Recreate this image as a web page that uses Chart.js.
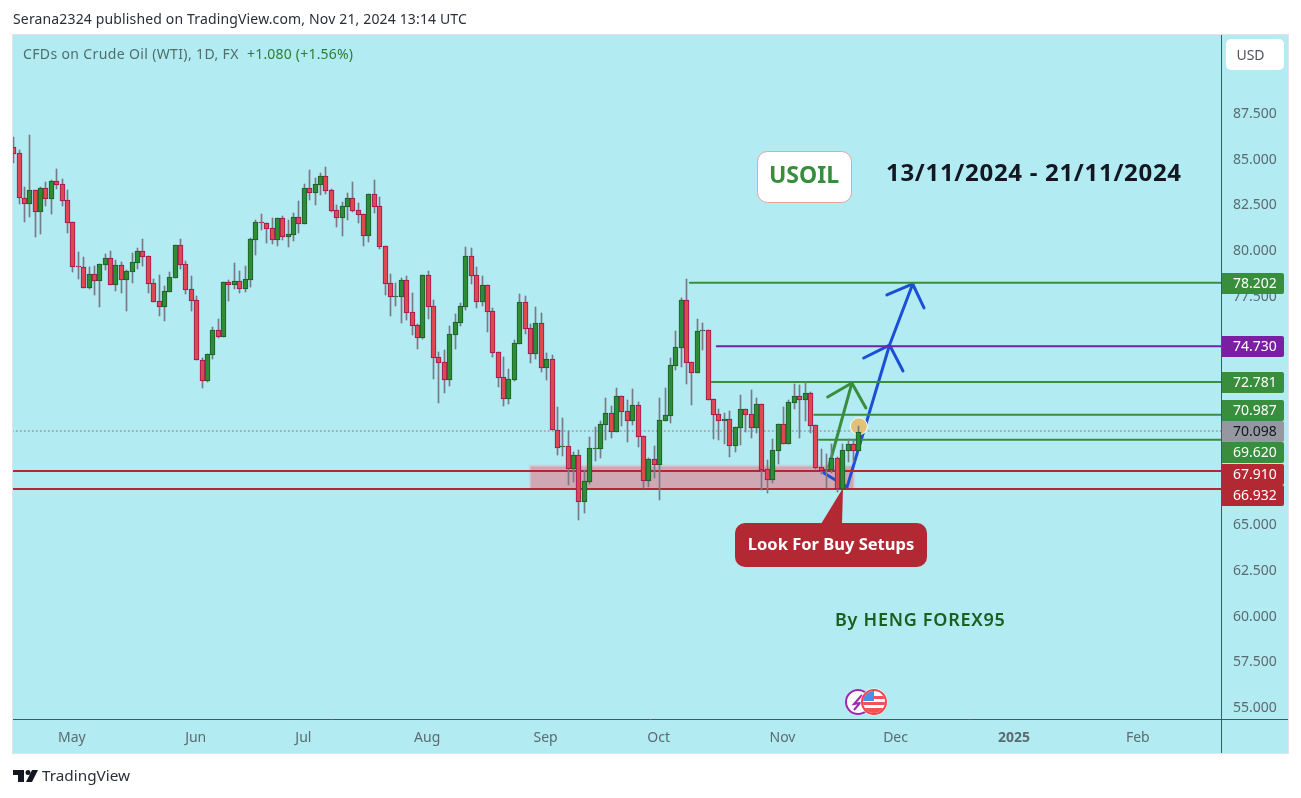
<!DOCTYPE html>
<html>
<head>
<meta charset="utf-8">
<style>
    html, body { margin: 0; padding: 0; background: #fff; }
    canvas { display: block; }
</style>
<script src="https://cdn.jsdelivr.net/npm/chart.js@4/dist/chart.umd.min.js"></script>
</head>
<body>
<canvas id="mainChart" width="1301" height="798"></canvas>
<script>
// daily candles
const opens = [85.62,85.29,82.83,82.50,83.26,82.10,83.37,82.81,83.76,83.59,
    82.72,81.51,79.11,79.05,77.94,78.67,78.32,79.20,79.54,78.10,
    79.16,78.38,78.82,79.31,79.93,79.65,78.18,77.19,76.90,77.72,
    78.49,80.26,79.22,77.85,77.25,73.96,72.85,74.27,75.61,75.26,
    78.23,78.10,78.28,77.88,78.38,80.56,81.51,81.46,81.18,80.56,
    81.73,80.73,80.84,81.79,81.44,83.37,83.14,83.57,84.03,83.26,
    82.17,81.77,82.37,82.83,82.17,81.95,80.78,83.04,82.39,80.20,
    78.18,77.45,77.45,78.34,76.59,75.88,75.20,78.61,76.92,74.13,
    73.85,72.90,75.37,76.02,76.90,79.65,78.61,77.17,78.07,76.65,
    74.40,73.03,71.87,72.91,74.87,77.14,75.71,74.33,75.99,73.56,
    74.02,70.17,69.20,69.26,68.04,68.77,66.23,67.33,69.11,69.13,
    70.45,71.07,70.06,71.99,71.17,70.66,71.50,69.81,67.38,68.55,
    68.26,70.66,70.94,73.67,74.66,77.25,73.85,73.29,75.55,75.60,
    71.83,71.01,70.66,70.73,69.30,70.28,71.28,71.01,70.28,71.56,
    68.00,67.44,69.02,70.46,69.41,71.65,71.99,71.81,72.16,70.41,
    68.11,67.95,67.98,68.60,66.91,69.02,69.37,68.99];
const closes = [85.27,82.83,82.50,83.26,82.10,83.37,82.81,83.76,83.57,82.70,
    81.50,79.09,79.05,77.94,78.67,78.32,79.22,79.54,78.10,79.16,
    78.38,78.83,79.33,79.93,79.64,78.16,77.17,76.90,77.74,78.50,
    80.26,79.20,77.83,77.23,73.96,72.85,74.29,75.61,75.26,78.23,
    78.10,78.28,77.88,78.39,80.58,81.51,81.49,81.17,80.56,81.73,
    80.73,80.86,81.79,81.44,83.37,83.14,83.59,84.03,83.25,82.15,
    81.77,82.39,82.83,82.15,81.93,80.78,83.04,82.37,80.18,78.16,
    77.45,77.48,78.34,76.57,75.86,75.20,78.61,76.90,74.11,73.84,
    72.90,75.39,76.04,76.92,79.65,78.60,77.17,78.07,76.63,74.38,
    73.02,71.87,72.92,74.89,77.14,75.70,74.33,75.99,73.56,74.02,
    70.15,69.19,69.26,68.04,68.77,66.23,67.35,69.15,69.17,70.46,
    71.07,70.06,71.99,71.16,70.66,71.50,69.79,67.38,68.55,68.26,
    70.68,70.95,73.69,74.68,77.25,73.84,73.29,75.55,75.60,71.81,
    70.99,70.66,70.73,69.30,70.30,71.28,70.99,70.28,71.56,67.97,
    67.44,69.04,70.46,69.41,71.67,71.99,71.81,72.16,70.39,68.09,
    67.93,68.00,68.60,66.91,69.04,69.37,68.99,70.06];
const highs = [86.20,85.47,83.47,86.29,83.26,83.43,83.74,83.83,84.43,83.88,
    83.28,81.51,79.89,79.62,79.05,79.13,79.22,79.77,79.95,79.45,
    79.34,78.91,79.84,80.11,80.60,79.65,78.41,78.63,78.03,78.78,
    80.26,80.60,79.40,78.58,77.48,74.09,74.29,75.79,76.21,78.23,
    78.36,79.29,78.85,79.12,80.66,81.64,81.97,81.46,81.75,81.73,
    81.86,81.64,82.02,82.68,83.61,84.38,83.94,84.19,84.54,83.34,
    82.46,82.63,83.12,83.72,82.57,81.95,83.04,83.83,82.90,80.20,
    78.69,78.19,78.47,78.58,77.65,75.95,78.61,78.83,77.27,74.42,
    74.53,75.84,76.50,77.08,80.16,80.11,79.05,78.58,78.07,76.81,
    74.40,74.15,73.47,75.08,77.59,77.48,75.95,76.88,76.55,74.37,
    74.26,71.41,70.81,70.10,68.95,69.06,67.97,69.77,70.32,70.63,
    71.90,71.47,72.45,71.99,71.79,72.40,71.67,69.81,68.62,69.26,
    71.88,72.45,74.07,75.57,77.36,78.41,73.85,76.21,76.01,75.60,
    71.83,71.28,71.07,71.17,70.30,72.05,71.28,72.34,71.88,71.56,
    68.49,69.64,70.46,71.39,71.78,72.65,72.60,72.80,72.23,70.41,
    69.10,68.82,69.39,68.68,69.39,69.64,69.61,70.37];
const lows = [84.78,82.52,81.53,81.81,80.71,80.87,82.41,81.97,83.32,82.41,
    80.93,78.80,78.41,77.94,77.87,77.54,76.88,78.91,78.10,77.76,
    77.65,76.66,78.20,78.96,79.13,77.65,77.17,76.39,76.11,77.72,
    78.49,78.96,77.59,76.66,73.96,72.45,72.78,74.04,75.20,75.26,
    77.21,77.87,77.65,77.70,77.97,79.73,81.09,80.38,80.33,80.22,
    80.55,80.16,80.49,80.93,81.44,82.73,82.46,83.01,83.06,82.08,
    81.26,80.77,81.64,82.10,81.48,80.22,80.44,82.02,80.05,77.54,
    76.39,76.94,76.01,76.17,75.35,74.58,75.13,76.22,72.94,71.63,
    72.18,72.56,74.58,75.84,76.72,78.14,76.83,76.94,75.51,74.15,
    72.50,71.47,71.58,72.83,74.87,75.40,73.82,74.04,73.33,72.89,
    70.15,68.79,68.73,67.14,67.31,65.23,65.61,67.20,68.46,68.62,
    69.59,69.71,70.06,70.37,69.50,70.43,69.22,66.96,67.03,67.55,
    66.32,70.66,70.54,73.44,73.60,72.67,71.52,73.29,74.53,71.81,
    69.66,69.61,69.39,68.70,68.95,69.33,70.06,69.71,69.97,66.87,
    66.71,67.25,68.28,69.41,69.41,71.28,69.73,70.65,70.01,68.02,
    67.75,66.96,67.78,66.78,66.91,68.40,68.42,68.99];

// axes
const monthIndex = [11, 34, 54, 77, 99, 120, 143, 164, 186, 209];
const monthLabels = ['May', 'Jun', 'Jul', 'Aug', 'Sep', 'Oct', 'Nov', 'Dec', '2025', 'Feb'];
// the ones behind the price tags are not shown in the picture
const priceTicks = [55, 57.5, 60, 62.5, 65, 77.5, 80, 82.5, 85, 87.5];

// horizontal levels drawn on the chart
const levelPrices = [78.202, 74.73, 72.781, 70.987, 69.62, 67.91, 66.932];
const levelStarts = [125.6, 130.6, 129.7, 148.7, 149.6, -1, -1];
const levelColors = ['#388e3c', '#7b1fa2', '#388e3c', '#388e3c', '#388e3c', '#b22833', '#b22833'];
const lastPrice = 70.098;

// hand drawn arrows (bar index / price)
const blueArrowX = [150.5, 154.8, 162.7, 167.0];
const blueArrowY = [67.80, 67.03, 74.80, 78.14];
const blueHeadTopX = [162.2, 167.0, 169.1];
const blueHeadTopY = [77.54, 78.14, 76.83];
const blueHeadMidX = [157.9, 162.7, 165.2];
const blueHeadMidY = [74.09, 74.80, 73.38];
const greenArrowX = [151.4, 155.7];
const greenArrowY = [68.13, 72.72];
const greenHeadX = [151.2, 155.7, 158.3];
const greenHeadY = [71.96, 72.72, 71.36];

// buy zone
const zoneFrom = 95.9, zoneTo = 156.1, zoneHigh = 68.2, zoneLow = 66.93;

const FONT = '"Noto Sans"';
const UP = '#2e8b3a', UP_EDGE = '#1b5e20', DOWN = '#dc4a4e', DOWN_EDGE = '#a0125a';

const isUp = opens.map((o, i) => closes[i] >= o);

function lineSet(xs, ys, color, width) {
    return {
        type: 'line',
        data: xs.map((x, i) => ({ x: x, y: ys[i] })),
        borderColor: color,
        borderWidth: width,
        pointRadius: 0,
        borderCapStyle: 'round',
        borderJoinStyle: 'round',
        order: 5
    };
}

function text(ctx, str, x, y, font, color, align, spacing) {
    ctx.font = font;
    ctx.fillStyle = color;
    ctx.textAlign = align || 'left';
    ctx.textBaseline = 'middle';
    ctx.letterSpacing = spacing || '0px';
    ctx.fillText(str, x, y);
    ctx.letterSpacing = '0px';
}

function roundBox(ctx, x, y, w, h, r, fill, stroke) {
    ctx.beginPath();
    ctx.roundRect(x, y, w, h, r);
    ctx.fillStyle = fill;
    ctx.fill();
    if (stroke) {
        ctx.strokeStyle = stroke;
        ctx.lineWidth = 1;
        ctx.stroke();
    }
}

// snap candles to whole pixels so they stay crisp
const snapBars = {
    id: 'snapBars',
    afterDatasetsUpdate(chart) {
        [0, 1].forEach(d => {
            chart.getDatasetMeta(d).data.forEach(el => {
                el.x = Math.floor(el.x) + 0.5;
                el.y = Math.round(el.y);
                el.base = Math.round(el.base);
                if (el.base === el.y) el.base = el.y + 2;
            });
        });
    }
};

// background + buy zone go under the candles
const backdrop = {
    id: 'backdrop',
    beforeDraw(chart) {
        const ctx = chart.ctx;
        ctx.save();
        ctx.fillStyle = '#ffffff';
        ctx.fillRect(0, 0, 1301, 798);
        ctx.fillStyle = '#b2ebf2';
        ctx.fillRect(13, 35, 1275, 718);
        ctx.strokeStyle = '#e0e3eb';
        ctx.lineWidth = 1;
        ctx.strokeRect(12.5, 34.5, 1276, 719);
        ctx.restore();
    },
    beforeDatasetsDraw(chart) {
        const ctx = chart.ctx, sx = chart.scales.x, sy = chart.scales.y;
        const x0 = sx.getPixelForValue(zoneFrom), x1 = sx.getPixelForValue(zoneTo);
        const y0 = sy.getPixelForValue(zoneHigh), y1 = sy.getPixelForValue(zoneLow);
        ctx.save();
        ctx.fillStyle = '#d0a8b3';
        ctx.fillRect(x0, y0, x1 - x0, y1 - y0);
        ctx.strokeStyle = 'rgba(205,205,215,0.7)';
        ctx.lineWidth = 2;
        ctx.strokeRect(x0, y0, x1 - x0, y1 - y0);
        ctx.restore();
    }
};

// all the text labels and tags on top
const overlay = {
    id: 'overlay',
    afterDraw(chart) {
        const ctx = chart.ctx, area = chart.chartArea;
        ctx.save();

        // axis lines run through the whole pane
        ctx.strokeStyle = '#50535e';
        ctx.lineWidth = 1;
        ctx.beginPath();
        ctx.moveTo(Math.round(area.right) - 0.5, 35);
        ctx.lineTo(Math.round(area.right) - 0.5, 753);
        ctx.moveTo(13, Math.round(area.bottom) + 0.5);
        ctx.lineTo(1288, Math.round(area.bottom) + 0.5);
        ctx.stroke();

        // header
        text(ctx, 'Serana2324 published on TradingView.com, Nov 21, 2024 13:14 UTC', 13, 20, '14px ' + FONT, '#2a2e39', 'left', '0.15px');
        text(ctx, 'CFDs on Crude Oil (WTI), 1D, FX', 23, 55, '14px ' + FONT, '#4f6f6b', 'left', '0.36px');
        text(ctx, '+1.080 (+1.56%)', 247, 55, '14px ' + FONT, '#2e7d32', 'left', '0.2px');

        // USD button
        roundBox(ctx, 1226, 39, 58, 31, 5, '#ffffff');
        text(ctx, 'USD', 1250.5, 56, '14px ' + FONT, '#50535e', 'center');

        // price tags, they get pushed apart so they dont overlap
        const tags = [
            ['78.202', 283.5, '#388e3c', '#fff'],
            ['74.730', 346.5, '#7b1fa2', '#fff'],
            ['72.781', 382.5, '#388e3c', '#fff'],
            ['70.987', 410.5, '#388e3c', '#fff'],
            ['70.098', 431.5, '#9598a1', '#131722'],
            ['69.620', 452.5, '#388e3c', '#fff'],
            ['67.910', 474.5, '#b22833', '#fff'],
            ['66.932', 495.5, '#b22833', '#fff']
        ];
        tags.forEach(t => {
            ctx.beginPath();
            ctx.roundRect(1222, t[1] - 10.5, 62, 21, [0, 2, 2, 0]);
            ctx.fillStyle = t[2];
            ctx.fill();
            text(ctx, t[0], 1233, t[1] + 1, '14px ' + FONT, t[3]);
        });

        // usoil box + date
        roundBox(ctx, 757.5, 151.5, 94, 51, 10, '#ffffff', '#e8a0a0');
        text(ctx, 'USOIL', 804, 176, 'bold 23px ' + FONT, '#388e3c', 'center');
        text(ctx, '13/11/2024 - 21/11/2024', 886, 174, 'bold 24px ' + FONT, '#131722', 'left', '0.7px');

        // callout
        ctx.beginPath();
        ctx.moveTo(821, 524);
        ctx.lineTo(843, 488);
        ctx.lineTo(842, 524);
        ctx.closePath();
        ctx.fillStyle = '#b22833';
        ctx.fill();
        roundBox(ctx, 735, 523, 192, 44, 10, '#b22833');
        text(ctx, 'Look For Buy Setups', 831, 545, 'bold 16.5px ' + FONT, '#ffffff', 'center');

        text(ctx, 'By HENG FOREX95', 835, 621, '600 18px ' + FONT, '#1b5e20', 'left', '0.72px');

        // event icons
        ctx.beginPath();
        ctx.arc(858, 702, 13, 0, Math.PI * 2);
        ctx.fillStyle = '#fff';
        ctx.fill();
        ctx.strokeStyle = '#9c27b0';
        ctx.lineWidth = 2;
        ctx.beginPath();
        ctx.arc(858, 702, 12, 0, Math.PI * 2);
        ctx.stroke();
        ctx.beginPath();
        ctx.moveTo(862, 695);
        ctx.lineTo(854, 704);
        ctx.lineTo(860, 703);
        ctx.lineTo(854, 710);
        ctx.stroke();

        ctx.beginPath();
        ctx.arc(874, 702, 13.5, 0, Math.PI * 2);
        ctx.fillStyle = '#fff';
        ctx.fill();
        ctx.save();
        ctx.beginPath();
        ctx.arc(874, 702, 11, 0, Math.PI * 2);
        ctx.clip();
        ctx.fillStyle = '#f0525a';
        ctx.fillRect(862, 696, 24, 3);
        ctx.fillRect(862, 702, 24, 3);
        ctx.fillRect(862, 708, 24, 5);
        ctx.fillStyle = '#4a90e2';
        ctx.fillRect(862, 690, 12, 11);
        ctx.restore();
        ctx.strokeStyle = '#f0444c';
        ctx.beginPath();
        ctx.arc(874, 702, 12, 0, Math.PI * 2);
        ctx.stroke();

        // tradingview logo
        ctx.fillStyle = '#131722';
        ctx.fillRect(13, 770, 11, 5);
        ctx.fillRect(18, 770, 6, 12);
        ctx.beginPath();
        ctx.arc(28, 772.5, 2.5, 0, Math.PI * 2);
        ctx.fill();
        ctx.beginPath();
        ctx.moveTo(32, 770);
        ctx.lineTo(38, 770);
        ctx.lineTo(32, 782);
        ctx.lineTo(26, 782);
        ctx.closePath();
        ctx.fill();
        text(ctx, 'TradingView', 42, 777, '15.3px ' + FONT, '#2a2e39');

        ctx.restore();
    }
};

const levelSets = levelPrices.map((p, i) => lineSet([levelStarts[i], 225], [p, p], levelColors[i], 2));
const lastLine = lineSet([-1, 225], [lastPrice, lastPrice], '#787b86', 1);
lastLine.borderDash = [1, 3];

new Chart(document.getElementById('mainChart'), {
    type: 'bar',
    plugins: [snapBars, backdrop, overlay],
    data: {
        datasets: [
            // bodies
            {
                data: opens.map((o, i) => ({ x: i, y: [o, closes[i]] })),
                backgroundColor: isUp.map(u => u ? UP : DOWN),
                borderColor: isUp.map(u => u ? UP_EDGE : DOWN_EDGE),
                borderWidth: 1,
                borderSkipped: false,
                barThickness: 5,
                grouped: false,
                order: 1
            },
            // wicks
            {
                data: lows.map((l, i) => ({ x: i, y: [l, highs[i]] })),
                backgroundColor: '#787b86',
                barThickness: 1,
                grouped: false,
                order: 2
            },
            lastLine,
            ...levelSets,
            lineSet(blueArrowX, blueArrowY, '#1c4fd6', 3),
            lineSet(blueHeadTopX, blueHeadTopY, '#1c4fd6', 3),
            lineSet(blueHeadMidX, blueHeadMidY, '#1c4fd6', 3),
            lineSet(greenArrowX, greenArrowY, '#388e3c', 3),
            lineSet(greenHeadX, greenHeadY, '#388e3c', 3),
            // tan dot on the last candle
            {
                type: 'line',
                data: [{ x: 157, y: 70.36 }],
                pointRadius: 8.5,
                pointBackgroundColor: '#e0c27a',
                pointBorderColor: '#ffffff',
                pointBorderWidth: 1,
                showLine: false,
                order: 3
            }
        ]
    },
    options: {
        responsive: false,
        animation: false,
        layout: { padding: { left: 13, top: 35, right: 13, bottom: 45 } },
        plugins: { legend: { display: false }, tooltip: { enabled: false } },
        scales: {
            x: {
                type: 'linear',
                offset: false,
                min: -0.12,
                max: 224.45,
                grid: { display: false },
                border: { display: false },
                afterFit(scale) { scale.height = 34; },
                afterBuildTicks(scale) { scale.ticks = monthIndex.map(v => ({ value: v })); },
                ticks: {
                    autoSkip: false,
                    maxRotation: 0,
                    padding: 3,
                    labelOffset: -1,
                    color: '#5b6b70',
                    font: ctx => ({ family: FONT, size: 14, weight: ctx.index === 8 ? 'bold' : 'normal' }),
                    callback: (v) => monthLabels[monthIndex.indexOf(v)]
                }
            },
            y: {
                position: 'right',
                min: 54.344,
                max: 91.76,
                grid: { display: false },
                border: { display: false },
                afterFit(scale) { scale.width = 66; },
                afterBuildTicks(scale) { scale.ticks = priceTicks.map(v => ({ value: v })); },
                ticks: {
                    padding: 3,
                    labelOffset: 1,
                    color: '#5b6b70',
                    font: { family: FONT, size: 14 },
                    callback: (v) => v.toFixed(3)
                }
            }
        }
    }
});
</script>
</body>
</html>
